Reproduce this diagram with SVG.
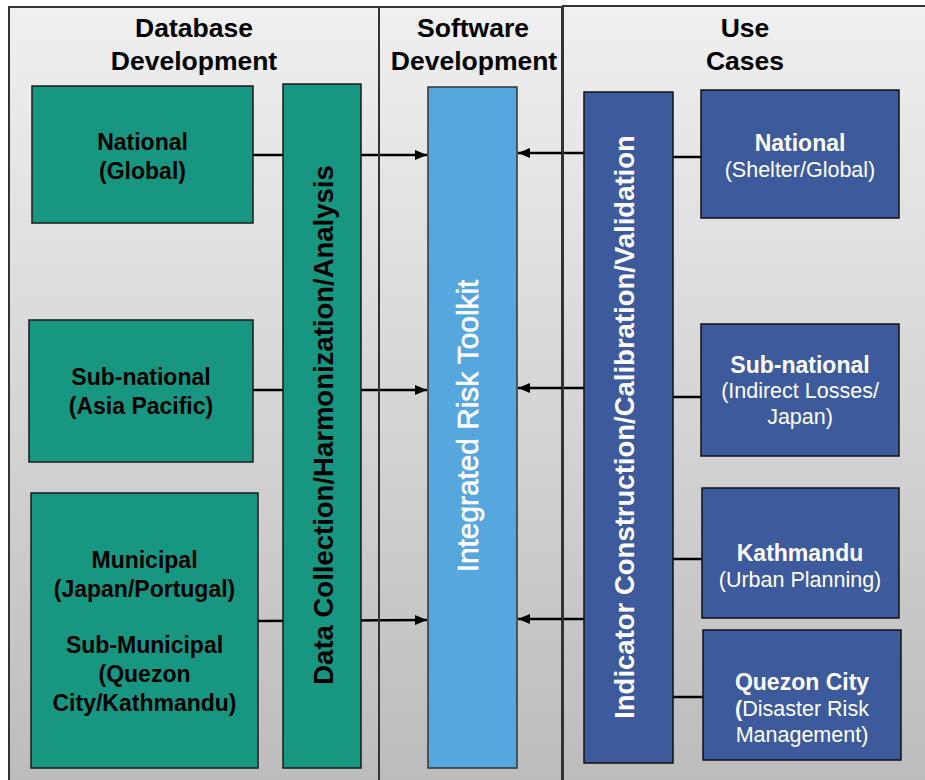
<svg xmlns="http://www.w3.org/2000/svg" width="925" height="780" viewBox="0 0 925 780">
<defs>
<linearGradient id="pg" x1="0" y1="0" x2="0" y2="1">
<stop offset="0" stop-color="#f0f0f0"/>
<stop offset="1" stop-color="#bbbbbb"/>
</linearGradient>
<marker id="ah" viewBox="0 0 12 10" refX="12" refY="5" markerWidth="12" markerHeight="10" markerUnits="userSpaceOnUse" orient="auto">
<path d="M0,0 L12,5 L0,10 z" fill="#000"/>
</marker>
<style>
.panel{fill:url(#pg);stroke:#333;stroke-width:2}
.teal{fill:#179781;stroke:#1a1a1a;stroke-width:1.5}
.blue{fill:#3d5b9c;stroke:#111;stroke-width:1.5}
.light{fill:#55a7dd;stroke:#333;stroke-width:1.5}
.hdr{font-family:"Liberation Sans",Arial,sans-serif;font-weight:bold;font-size:26.5px;fill:#000;text-anchor:middle}
.nb{font-family:"Liberation Sans",Arial,sans-serif;font-weight:bold;font-size:23px;fill:#000;text-anchor:middle}
.wb{font-family:"Liberation Sans",Arial,sans-serif;font-weight:bold;font-size:23px;fill:#fff;text-anchor:middle}
.wr{font-family:"Liberation Sans",Arial,sans-serif;font-size:21.5px;fill:#fff;text-anchor:middle}
.vb{font-family:"Liberation Sans",Arial,sans-serif;font-weight:bold;font-size:27.5px;text-anchor:middle}
.conn{stroke:#000;stroke-width:2.5;fill:none}
</style>
</defs>
<g id="panels">
<rect class="panel" x="9" y="7" width="370" height="790"/>
<rect class="panel" x="379" y="7" width="183" height="790"/>
<rect class="panel" x="563" y="6" width="380" height="790"/>
<text class="hdr" x="194" y="37">Database</text>
<text class="hdr" x="194" y="70">Development</text>
<text class="hdr" x="473" y="37">Software</text>
<text class="hdr" x="474" y="70">Development</text>
<text class="hdr" x="745" y="37">Use</text>
<text class="hdr" x="745" y="70">Cases</text>
</g>
<g id="connectors">
<line class="conn" x1="253" y1="155" x2="427" y2="155" marker-end="url(#ah)"/>
<line class="conn" x1="253" y1="390" x2="427" y2="390" marker-end="url(#ah)"/>
<line class="conn" x1="258" y1="621" x2="427" y2="620" marker-end="url(#ah)"/>
<line class="conn" x1="584" y1="153" x2="518" y2="153" marker-end="url(#ah)"/>
<line class="conn" x1="584" y1="388" x2="518" y2="388" marker-end="url(#ah)"/>
<line class="conn" x1="584" y1="619" x2="518" y2="619" marker-end="url(#ah)"/>
<line class="conn" x1="673" y1="157" x2="701" y2="157"/>
<line class="conn" x1="673" y1="397" x2="701" y2="397"/>
<line class="conn" x1="673" y1="559" x2="702" y2="559"/>
<line class="conn" x1="673" y1="697" x2="703" y2="697"/>
</g>
<g id="dividers">
<line x1="379" y1="7" x2="379" y2="780" stroke="#333" stroke-width="2"/>
<line x1="563" y1="6" x2="563" y2="780" stroke="#333" stroke-width="2"/>
</g>
<g id="node-national-global">
<rect class="teal" x="32" y="86" width="221" height="137"/>
<text class="nb" x="142.5" y="150">National</text>
<text class="nb" x="142.5" y="179">(Global)</text>
</g>
<g id="node-subnational-asia">
<rect class="teal" x="29" y="320" width="224" height="142"/>
<text class="nb" x="141" y="385">Sub-national</text>
<text class="nb" x="141" y="414">(Asia Pacific)</text>
</g>
<g id="node-municipal">
<rect class="teal" x="31" y="493" width="227" height="275"/>
<text class="nb" x="144.5" y="568">Municipal</text>
<text class="nb" x="144.5" y="597">(Japan/Portugal)</text>
<text class="nb" x="144.5" y="653">Sub-Municipal</text>
<text class="nb" x="144.5" y="682">(Quezon</text>
<text class="nb" x="144.5" y="711">City/Kathmandu)</text>
</g>
<g id="node-data-collection">
<rect class="teal" x="283" y="84" width="78" height="684"/>
<text class="vb" fill="#000" transform="translate(333,425) rotate(-90)">Data Collection/Harmonization/Analysis</text>
</g>
<g id="node-toolkit">
<rect class="light" x="428" y="87" width="89" height="681"/>
<text transform="translate(478,426) rotate(-90)" font-family="Liberation Sans, Arial, sans-serif" font-size="29.8px" fill="#fff" stroke="#fff" stroke-width="0.6" text-anchor="middle">Integrated Risk Toolkit</text>
</g>
<g id="node-indicator">
<rect class="blue" x="584" y="92" width="89" height="671"/>
<text class="vb" fill="#fff" transform="translate(634,427) rotate(-90)">Indicator Construction/Calibration/Validation</text>
</g>
<g id="node-uc-national">
<rect class="blue" x="701" y="90" width="198" height="128"/>
<text class="wb" x="800" y="151">National</text>
<text class="wr" x="800" y="177">(Shelter/Global)</text>
</g>
<g id="node-uc-subnational">
<rect class="blue" x="701" y="324" width="198" height="132"/>
<text class="wb" x="800" y="373">Sub-national</text>
<text class="wr" x="800" y="398">(Indirect Losses/</text>
<text class="wr" x="800" y="424">Japan)</text>
</g>
<g id="node-uc-kathmandu">
<rect class="blue" x="702" y="488" width="197" height="130"/>
<text class="wb" x="800" y="561">Kathmandu</text>
<text class="wr" x="800" y="587">(Urban Planning)</text>
</g>
<g id="node-uc-quezon">
<rect class="blue" x="703" y="630" width="198" height="130"/>
<text class="wb" x="802" y="690">Quezon City</text>
<text class="wr" x="802" y="716"><tspan font-weight="bold">(</tspan>Disaster Risk</text>
<text class="wr" x="802" y="742">Management)</text>
</g>
</svg>
